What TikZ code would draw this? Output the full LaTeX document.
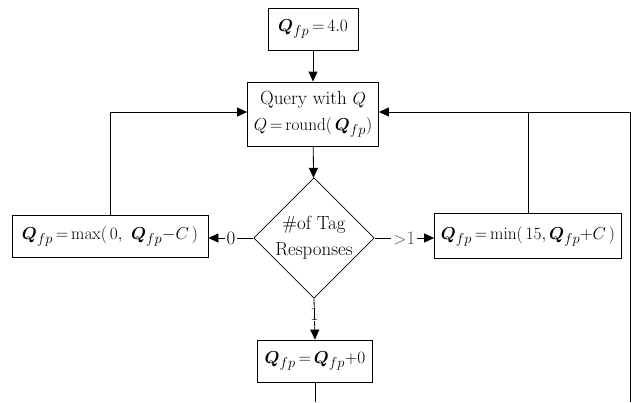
\documentclass[tikz,border=0pt]{standalone}
\usepackage{amsmath,bm}
\usetikzlibrary{shapes.geometric,arrows.meta}
\begin{document}
\begin{tikzpicture}[x=1pt,y=-1pt,
  font=\fontsize{19}{26}\selectfont,
  box/.style={draw,thick,align=center,inner sep=0pt},
  decision/.style={draw,thick,diamond,align=center,inner sep=0pt,
    minimum width=118pt,minimum height=120pt},
  flow/.style={thick,-{Triangle[length=10pt,width=9pt]}},
  wire/.style={thick},
  tag/.style={fill=white,inner sep=2pt}]
\useasboundingbox (0,0) rectangle (631,402);
\newcommand{\Qfp}{\bm{Q}_{fp}}
\newcommand{\eqs}{\,{=}\,}
% process boxes
\node[box,minimum width=90pt,minimum height=42pt] (init) at (313,29) {$\Qfp\eqs 4.0$};
\node[box,minimum width=131pt,minimum height=64pt] (query) at (313,114)
  {Query with $Q$\\ $Q\eqs\mathrm{round}(\,\Qfp)$};
\node[decision] (dec) at (314,238) {\fontsize{19}{21}\selectfont\#of Tag\\Responses};
\node[box,minimum width=196pt,minimum height=42pt] (dec0) at (110,236)
  {$\Qfp\eqs\mathrm{max}(\,0,\ \Qfp{-}C\,)$};
\node[box,minimum width=187pt,minimum height=45pt] (inc) at (528,236)
  {$\Qfp\eqs\mathrm{min}(\,15,\Qfp{+}C\,)$};
\node[box,minimum width=115pt,minimum height=42pt] (keep) at (315,361)
  {$\Qfp\eqs\Qfp{+}0$};
% free ends of the loop-back wires and the junction on the right
\coordinate (ret) at (630,402);
\coordinate (out) at (315,402);
\coordinate (jn) at (630,112);
% main flow
\draw[flow] (init) -- (query);
\draw[flow] (query) -- (dec);
\draw[flow] (dec.west) -- node[tag] {0} (dec0.east |- dec.west);
\draw[flow] (dec.east) -- node[tag,text=black!70] {$>$1} (inc.west |- dec.east);
\draw[flow] (dec.south) -- node[tag,pos=0.38,inner sep=1pt] {1} (keep.north);
\draw[wire] (keep.south) -- (out);
% loop-back paths to the query step
\draw[flow] (dec0.north) |- (query.west |- jn);
\draw[wire] (inc.north) -- (inc.north |- jn);
\draw[flow] (ret) -- (jn) -- (query.east |- jn);
\end{tikzpicture}
\end{document}
